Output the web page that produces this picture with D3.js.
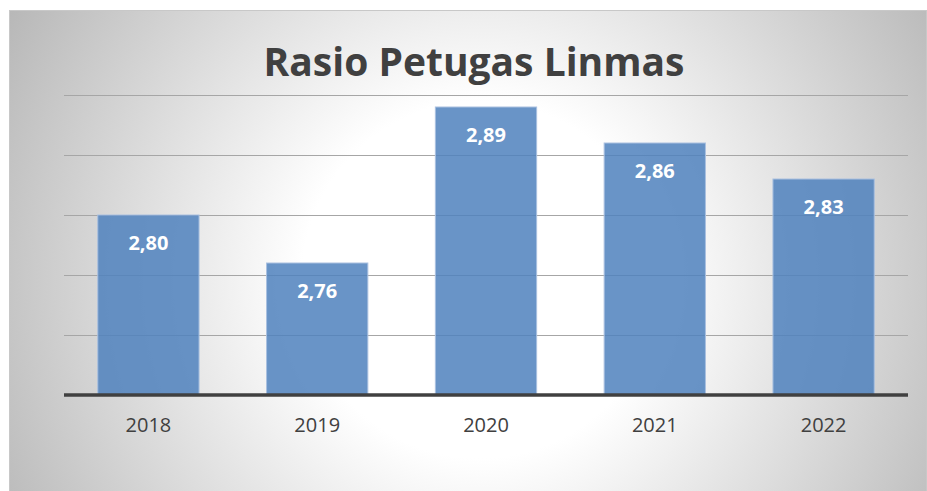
<!DOCTYPE html>
<html>
<head>
<meta charset="utf-8">
<script src="https://cdn.jsdelivr.net/npm/d3@7"></script>
<style>
  body { margin: 0; background: #fff; }
  svg { display: block; font-family: "Open Sans", "Noto Sans", sans-serif; }
</style>
</head>
<body>
<div id="chart"></div>
<script>
var years = ["2018", "2019", "2020", "2021", "2022"];
var rasio = [2.80, 2.76, 2.89, 2.86, 2.83];
var gridTicks = [2.65, 2.70, 2.75, 2.80, 2.85, 2.90];

var width = 927, height = 491;
var plot = {left: 64, right: 908, top: 95, bottom: 395};

var svg = d3.select("#chart").append("svg")
    .attr("width", width)
    .attr("height", height);

// background like the office chart: radial white to grey
var defs = svg.append("defs");
var grad = defs.append("radialGradient")
    .attr("id", "bg")
    .attr("gradientUnits", "userSpaceOnUse")
    .attr("cx", 480).attr("cy", 280).attr("r", 540);
grad.append("stop").attr("offset", "0%").attr("stop-color", "#ffffff");
grad.append("stop").attr("offset", "33%").attr("stop-color", "#ffffff");
grad.append("stop").attr("offset", "100%").attr("stop-color", "#b8b8b8");

svg.append("rect")
    .attr("x", 9.5).attr("y", 10.5)
    .attr("width", 917).attr("height", 490)
    .attr("fill", "url(#bg)")
    .attr("stroke", "#c8c8c8");

var x = d3.scaleBand()
    .domain(years)
    .range([plot.left, plot.right])
    .paddingInner(0.4)
    .paddingOuter(0.2);

var y = d3.scaleLinear()
    .domain([2.65, 2.90])
    .range([plot.bottom, plot.top]);

// gridlines
svg.append("g")
    .selectAll("line")
    .data(gridTicks.slice(1))
    .enter().append("line")
    .attr("x1", plot.left).attr("x2", plot.right)
    .attr("y1", function(d) { return Math.round(y(d)) + 0.5; })
    .attr("y2", function(d) { return Math.round(y(d)) + 0.5; })
    .attr("stroke", "#a6a6a6")
    .attr("stroke-width", 1.2);

// bars
svg.append("g")
    .selectAll("rect")
    .data(rasio)
    .enter().append("rect")
    .attr("x", function(d, i) { return x(years[i]); })
    .attr("y", function(d) { return y(d); })
    .attr("width", x.bandwidth())
    .attr("height", function(d) { return y(2.65) - y(d); })
    .attr("fill", "#4f81bd")
    .attr("fill-opacity", 0.85)
    .attr("stroke", "#a9c0e0")
    .attr("stroke-width", 1);

// value labels
svg.append("g")
    .selectAll("text")
    .data(rasio)
    .enter().append("text")
    .attr("x", function(d, i) { return x(years[i]) + x.bandwidth() / 2; })
    .attr("y", function(d) { return y(d) + 35; })
    .attr("text-anchor", "middle")
    .attr("fill", "#ffffff")
    .style("font-size", "20px")
    .style("font-weight", "bold")
    .text(function(d) { return d.toFixed(2).replace(".", ","); });

// baseline axis
var xAxis = svg.append("g")
    .attr("transform", "translate(0," + plot.bottom + ")")
    .call(d3.axisBottom(x).tickSize(0).tickPadding(23));
xAxis.select(".domain")
    .attr("stroke", "#404040")
    .attr("stroke-width", 3.5)
    .attr("d", "M" + plot.left + ",0H" + plot.right);
xAxis.selectAll("text")
    .attr("fill", "#404040")
    .style("font-size", "20px")
    .style("font-family", "\"Open Sans\", sans-serif");

// title
svg.append("text")
    .attr("x", 474)
    .attr("y", 76)
    .attr("text-anchor", "middle")
    .attr("fill", "#404040")
    .style("font-size", "39px")
    .style("font-weight", "bold")
    .text("Rasio Petugas Linmas");
</script>
</body>
</html>
